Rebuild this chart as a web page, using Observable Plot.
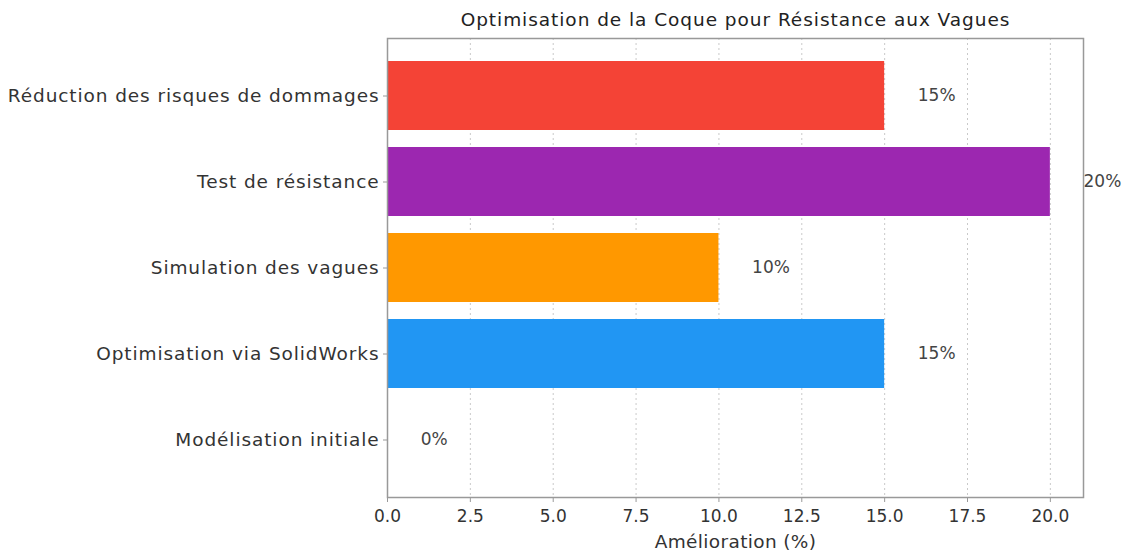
<!DOCTYPE html>
<html>
<head>
<meta charset="utf-8">
<script src="https://cdn.jsdelivr.net/npm/d3@7"></script>
<script src="https://cdn.jsdelivr.net/npm/@observablehq/plot@0.6"></script>
<style>
  body { margin: 0; background: #fff; }
  svg { font-family: "DejaVu Sans", sans-serif; }
  g[aria-label="y-axis tick label"] text { letter-spacing: 0.9px; }
</style>
</head>
<body>
<div id="chart"></div>
<script>
const categories = [
  "Réduction des risques de dommages",
  "Test de résistance",
  "Simulation des vagues",
  "Optimisation via SolidWorks",
  "Modélisation initiale"
];
const values = [15, 20, 10, 15, 0];
const colors = ["#F44336", "#9C27B0", "#FF9800", "#2196F3", "#4CAF50"];
const xTicks = [0, 2.5, 5, 7.5, 10, 12.5, 15, 17.5, 20];
const title = "Optimisation de la Coque pour Résistance aux Vagues";
const xLabel = "Amélioration (%)";

const data = categories.map((c, i) => ({ cat: c, value: values[i], color: colors[i] }));

const FS = 18.5;
const chart = Plot.plot({
  width: 1126,
  height: 553,
  marginLeft: 387,
  marginRight: 43,
  marginTop: 38,
  marginBottom: 56,
  style: { fontFamily: "'DejaVu Sans', sans-serif", fontSize: FS + "px", color: "#333", background: "#fff" },
  x: { domain: [0, 21], ticks: xTicks, tickFormat: d => d.toFixed(1), label: null },
  y: { domain: categories, paddingInner: 0.2, paddingOuter: 0.24, label: null },
  marks: [
    Plot.gridX(xTicks, { stroke: "#bbb", strokeOpacity: 1, strokeDasharray: "2,3", strokeWidth: 0.8 }),
    Plot.barX(data, { x: "value", y: "cat", fill: "color" }),
    Plot.text(data, { x: d => d.value + 1, y: "cat", text: d => `${d.value}%`, textAnchor: "start", fill: "#444", fontSize: 17 }),
    Plot.frame({ stroke: "#999", strokeWidth: 1.5 }),
    Plot.axisX({ ticks: xTicks, tickFormat: d => d.toFixed(1), tickSize: 5, tickPadding: 7, fontSize: 17, stroke: "#999", label: null }),
    Plot.axisY({ tickSize: 4, tickPadding: 4, fontSize: FS, stroke: "#999", label: null }),
    Plot.text([xLabel], { frameAnchor: "bottom", dy: 50, fontSize: FS, fill: "#333" }),
    Plot.text([title], { frameAnchor: "top", dy: -26, fontSize: FS, fill: "#222" })
  ]
});
d3.select(chart).selectAll("text").each(function () {
  const t = this.textContent;
  if (t === title) this.style.letterSpacing = "0.95px";
  else if (t === xLabel) this.style.letterSpacing = "0.35px";
});
document.getElementById("chart").appendChild(chart);
</script>
</body>
</html>
